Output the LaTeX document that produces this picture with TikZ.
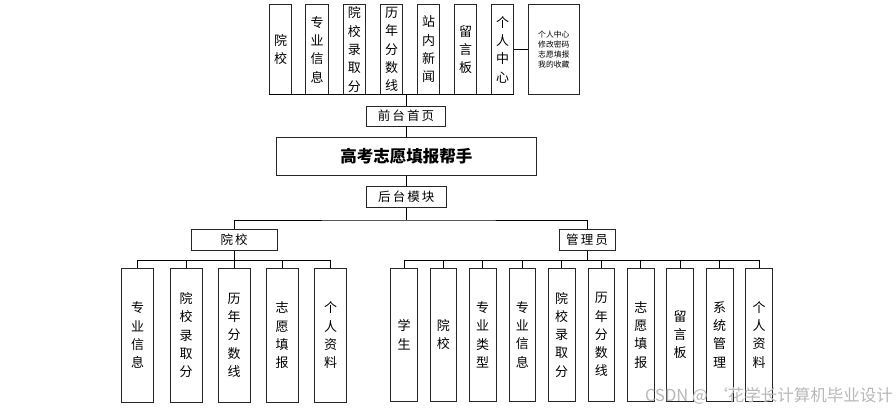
\documentclass[tikz,border=0pt]{standalone}
\usepackage{fontspec}
\setmainfont{Noto Sans CJK SC}
\usetikzlibrary{calc}
\begin{document}
\begin{tikzpicture}[x=1pt,y=-1pt,
  box/.style={draw=black!85, line width=0.9pt, inner sep=0pt, fill=white},
  vtext/.style={box, align=center, font=\fontsize{13}{18.3}\selectfont},
  topbox/.style={vtext, minimum width=22.4pt, minimum height=89.6pt},
  lbox/.style={vtext, minimum width=32pt, minimum height=134pt},
  rbox/.style={vtext, minimum width=26.5pt, minimum height=132.7pt},
  hbox/.style={box, font=\fontsize{12.5}{14}\selectfont},
  conn/.style={draw=black, line width=0.9pt}]
\useasboundingbox (0,0) rectangle (896,414);

% top row
\node[topbox] (t1) at (280.5,49.5) {院\\校};
\node[topbox] (t2) at (317,49.5) {专\\业\\信\\息};
\node[topbox] (t3) at (354.3,49.5) {院\\校\\录\\取\\分};
\node[topbox] (t4) at (391.5,49.5) {历\\年\\分\\数\\线};
\node[topbox] (t5) at (428.7,49.5) {站\\内\\新\\闻};
\node[topbox] (t6) at (465.7,49.5) {留\\言\\板};
\node[topbox] (t7) at (502.7,49.5) {个\\人\\中\\心};
\node[box, minimum width=51pt, minimum height=89.6pt, align=center,
      font=\fontsize{7.8}{10}\selectfont] (t8) at (553.8,49.5)
      {个人中心\\修改密码\\志愿填报\\我的收藏};
\draw[conn] (t1.south west) -- (t7.south east);
\draw[conn] (t7.east) -- (t8.west);

\node[hbox, minimum width=78.6pt, minimum height=20pt] (qt) at (406,116) {前\,台\,首\,页};
\draw[conn] (qt.north) -- (qt.north |- t1.south);

\node[box, minimum width=259.3pt, minimum height=38pt,
      font=\fontsize{16.5}{18}\selectfont\bfseries] (main) at (406.3,156.3) {高考志愿填报帮手};
\draw[conn] (qt.south) -- (qt.south |- main.north);

\node[hbox, minimum width=79.3pt, minimum height=21pt] (ht) at (406.3,197.2) {后\,台\,模\,块};
\draw[conn] (main.south) -- (main.south |- ht.north);

\node[hbox, minimum width=86.3pt, minimum height=20.7pt] (yx) at (234.2,239.7) {院\,校};
\node[hbox, minimum width=56pt, minimum height=20.7pt] (gl) at (587,239.7) {管\,理\,员};
\coordinate (busT) at (406.3,220);
\draw[conn] (ht.south) -- (busT);
\draw[conn] (yx.north) |- (busT) -| (gl.north);

% left bottom
\node[lbox] (l1) at (137.5,335.3) {专\\业\\信\\息};
\node[lbox] (l2) at (186,335.3) {院\\校\\录\\取\\分};
\node[lbox] (l3) at (234,335.3) {历\\年\\分\\数\\线};
\node[lbox] (l4) at (282,335.3) {志\\愿\\填\\报};
\node[lbox] (l5) at (330.7,335.3) {个\\人\\资\\料};
\coordinate (busL) at ($(l1.north)+(0,-7.6)$);
\draw[conn] (yx.south) -- (yx.south |- busL);
\draw[conn] (l1.north) -- (busL) -| (l5.north);
\foreach \i in {2,3,4} \draw[conn] (l\i.north) -- (l\i.north |- busL);

% right bottom
\node[rbox] (r1) at (404,334.7) {学\\生};
\node[rbox] (r2) at (443.3,334.7) {院\\校};
\node[rbox] (r3) at (482.7,334.7) {专\\业\\类\\型};
\node[rbox] (r4) at (522.3,334.7) {专\\业\\信\\息};
\node[rbox] (r5) at (561.7,334.7) {院\\校\\录\\取\\分};
\node[rbox] (r6) at (601.3,334.7) {历\\年\\分\\数\\线};
\node[rbox] (r7) at (640.8,334.7) {志\\愿\\填\\报};
\node[rbox] (r8) at (680,334.7) {留\\言\\板};
\node[rbox] (r9) at (719.7,334.7) {系\\统\\管\\理};
\node[rbox] (r10) at (759,334.7) {个\\人\\资\\料};
\coordinate (busR) at ($(r1.north)+(0,-7.6)$);
\draw[conn] (gl.south) -- (gl.south |- busR);
\draw[conn] (r1.north) -- (busR) -| (r10.north);
\foreach \i in {2,...,9} \draw[conn] (r\i.north) -- (r\i.north |- busR);

% watermark
\node[anchor=east, text=black!28, font=\fontsize{16.5}{18}\selectfont, inner sep=0pt] (wm) at (893,396) {CSDN @ ‘花学长计算机毕业设计};
\end{tikzpicture}
\end{document}
